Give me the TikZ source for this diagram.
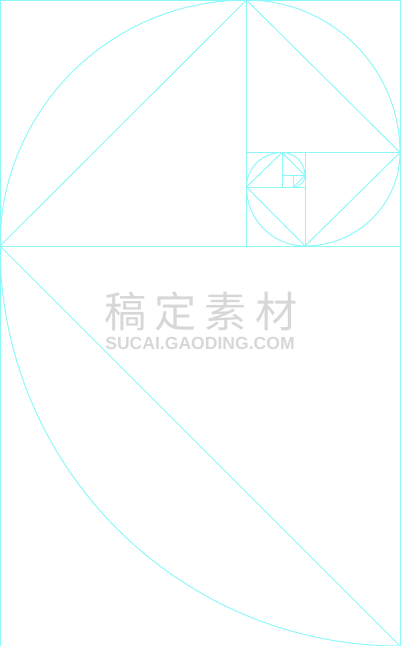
\documentclass[tikz,border=0pt]{standalone}
\usepackage{fontspec}
\newfontfamily\cjkfont{Noto Sans CJK SC}
\newfontfamily\markfont{Liberation Sans}
\definecolor{goldline}{RGB}{140,248,248}
\definecolor{markgray}{RGB}{215,215,215}
\begin{document}
\begin{tikzpicture}[x=0.02cm, y=-0.02cm,
  guide/.style={draw=goldline, line width=0.55pt},
  wmtext/.style={text=markgray, inner sep=0pt}]
\useasboundingbox (0,0) rectangle (400,646);
\coordinate (tl) at (0,0);
\coordinate (br) at (400,646);
\coordinate (q1) at (0,246);
\coordinate (q2) at (400,246);
\coordinate (q3) at (246.5,0);
\coordinate (q4) at (246.5,246);
\coordinate (q5) at (246.5,152.5);
\coordinate (q6) at (400,152.5);
\coordinate (q7) at (305,152.5);
\coordinate (q8) at (305,246);
\coordinate (q9) at (246.5,187);
\coordinate (q10) at (305,187);
\coordinate (q11) at (282,152.5);
\coordinate (q12) at (282,187);
\coordinate (q13) at (282,175.5);
\coordinate (q14) at (305,175.5);
\coordinate (q15) at (293.5,175.5);
\coordinate (q16) at (293.5,187);
\draw[guide] (tl) rectangle (br);
\draw[guide] (q1) -- (q2);
\draw[guide] (q3) -- (q4);
\draw[guide] (q5) -- (q6);
\draw[guide] (q7) -- (q8);
\draw[guide] (q9) -- (q10);
\draw[guide] (q11) -- (q12);
\draw[guide] (q13) -- (q14);
\draw[guide] (q15) -- (q16);
\draw[guide] (q1) -- (br);
\draw[guide] (q1) -- (q3);
\draw[guide] (q3) -- (q6);
\draw[guide] (q6) -- (q8);
\draw[guide] (q8) -- (q9);
\draw[guide] (q9) -- (q11);
\draw[guide] (q11) -- (q14);
\draw[guide] (q14) -- (q16);
\draw[guide] (q1) arc[start angle=180, end angle=90, x radius=400, y radius=400];
\draw[guide] (q1) arc[start angle=180, end angle=270, x radius=246.5, y radius=246];
\draw[guide] (q3) arc[start angle=270, end angle=360, x radius=153.5, y radius=152.5];
\draw[guide] (q6) arc[start angle=0, end angle=90, x radius=95, y radius=93.5];
\draw[guide] (q8) arc[start angle=90, end angle=180, x radius=58.5, y radius=59];
\draw[guide] (q9) arc[start angle=180, end angle=270, x radius=35.5, y radius=34.5];
\draw[guide] (q11) arc[start angle=270, end angle=360, x radius=23, y radius=23];
\draw[guide] (q14) arc[start angle=0, end angle=90, x radius=11.5, y radius=11.5];
\node[wmtext, font=\cjkfont\fontsize{24}{24}\selectfont] (wm1) at (201,311.5)
  {稿\hspace{4.5pt}定\hspace{4.5pt}素\hspace{4.5pt}材};
\node[wmtext, font=\markfont\bfseries\fontsize{10}{10}\selectfont] (wm2) at (200,343)
  {SUCAI.GAODING.COM};
\end{tikzpicture}
\end{document}
